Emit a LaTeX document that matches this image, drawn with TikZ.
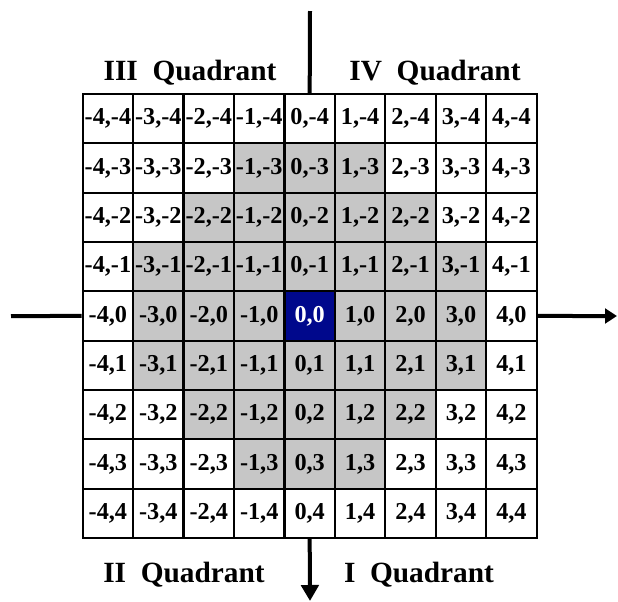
\documentclass[tikz,border=0pt]{standalone}
\usepackage{fontspec}
\setmainfont{Liberation Serif}
\usetikzlibrary{arrows.meta}
\definecolor{cellgray}{RGB}{198,198,198}
\definecolor{cellblue}{RGB}{0,8,140}
\tikzset{
  cellbox/.style={draw=black, line width=1.6pt, minimum width=37.8pt, minimum height=37pt,
    inner sep=0pt, font=\fontsize{18.2}{20}\selectfont\bfseries, text=black},
  shaded/.style={fill=cellgray},
  center/.style={fill=cellblue, text=white},
  axis/.style={line width=3pt},
  quadlabel/.style={font=\fontsize{22}{24}\selectfont\bfseries, inner sep=0pt}
}
\begin{document}
\begin{tikzpicture}[x=0.75pt,y=-0.75pt]
\useasboundingbox (0,0) rectangle (618,601);
\foreach \i in {0,...,8}{
  \foreach \j in {0,...,8}{
    \pgfmathtruncatemacro{\xv}{\i-4}
    \pgfmathtruncatemacro{\yv}{\j-4}
    \pgfmathtruncatemacro{\ax}{abs(\xv)}
    \pgfmathtruncatemacro{\ay}{abs(\yv)}
    \pgfmathtruncatemacro{\lim}{\ay<=1 ? 3 : 4-\ay}
    \pgfmathtruncatemacro{\sh}{(\ax<=\lim) && (\ay<=3) ? 1 : 0}
    \ifnum\xv=0 \ifnum\yv=0 \def\sty{center}\else\ifnum\sh=1 \def\sty{shaded}\else\def\sty{}\fi\fi
    \else\ifnum\sh=1 \def\sty{shaded}\else\def\sty{}\fi\fi
    \node[cellbox,\sty] (c\i\j) at ({82.7+50.44*(\i+0.5)},{94+49.33*(\j+0.5)}) {\xv,\yv};
  }
}
\coordinate (vt) at (310,11);
\coordinate (vb) at (310,601);
\coordinate (hl) at (11,316);
\coordinate (hr) at (617,316);
\draw[axis] (vt) -- (c40.north);
\draw[axis,-{Triangle[length=12pt,width=13pt]}] (c48.south) -- (vb);
\draw[axis] (hl) -- (c04.west);
\draw[axis,-{Triangle[length=9pt,width=11pt]}] (c84.east) -- (hr);
\node[quadlabel] (q3) at (190,73) {III\hspace{0.5em}Quadrant};
\node[quadlabel] (q4) at (435,73) {IV\hspace{0.5em}Quadrant};
\node[quadlabel] (q2) at (184,575) {II\hspace{0.5em}Quadrant};
\node[quadlabel] (q1) at (419,575) {I\hspace{0.5em}Quadrant};
\end{tikzpicture}
\end{document}
